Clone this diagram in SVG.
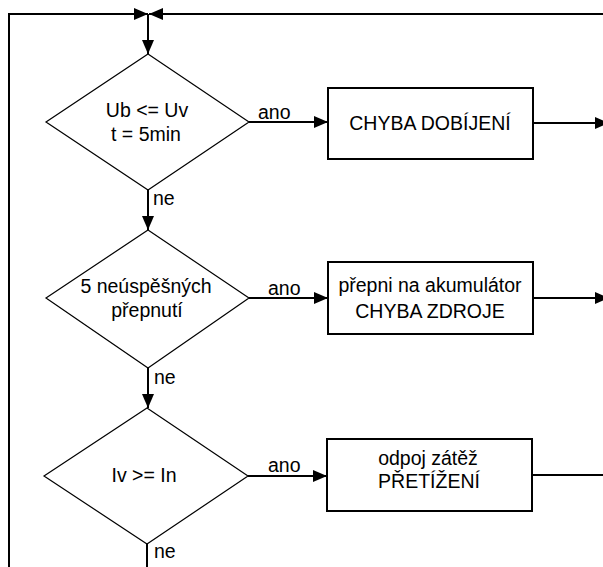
<svg xmlns="http://www.w3.org/2000/svg" width="603" height="567" viewBox="0 0 603 567">
<style>
  .t { font-family: "Liberation Sans", Arial, sans-serif; font-size: 19.5px; fill: #000; text-anchor: middle; }
  .l { font-family: "Liberation Sans", Arial, sans-serif; font-size: 19.5px; fill: #000; }
  .d { fill: #fff; stroke: #000; stroke-width: 1.2; }
  .b { fill: #fff; stroke: #000; stroke-width: 2; }
  .c { fill: none; stroke: #000; stroke-width: 2; }
</style>
<defs>
  <marker id="ah" markerUnits="userSpaceOnUse" markerWidth="14" markerHeight="12" refX="14" refY="6" orient="auto">
    <path d="M0,0 L14,6 L0,12 z" fill="#000"/>
  </marker>
</defs>
<rect width="603" height="567" fill="#fff"/>
<g id="connectors">
  <path class="c" d="M9,567 L9,14 L148,14" marker-end="url(#ah)"/>
  <path class="c" d="M603,14 L149,14" marker-end="url(#ah)"/>
  <path class="c" d="M148,14 L148,54" marker-end="url(#ah)"/>
  <path class="c" d="M249,122 L328,122" marker-end="url(#ah)"/>
  <path class="c" d="M533,123 L609,123" marker-end="url(#ah)"/>
  <path class="c" d="M148,190 L148,230" marker-end="url(#ah)"/>
  <path class="c" d="M249,298 L328,298" marker-end="url(#ah)"/>
  <path class="c" d="M533,298 L609,298" marker-end="url(#ah)"/>
  <path class="c" d="M148,368 L148,408" marker-end="url(#ah)"/>
  <path class="c" d="M248,476 L327,476" marker-end="url(#ah)"/>
  <path class="c" d="M532,475 L603,475"/>
  <path class="c" d="M147,544 L147,567"/>
  <text class="l" x="258" y="119">ano</text>
  <text class="l" x="153" y="205">ne</text>
  <text class="l" x="268" y="295">ano</text>
  <text class="l" x="154" y="384">ne</text>
  <text class="l" x="268" y="472">ano</text>
  <text class="l" x="154" y="558">ne</text>
</g>
<g id="d1">
  <polygon class="d" points="148,54 249,122 148,190 46,122"/>
  <text class="t" x="147" y="117">Ub &lt;= Uv</text>
  <text class="t" x="146" y="141">t = 5min</text>
</g>
<g id="b1">
  <rect class="b" x="328" y="88" width="205" height="71"/>
  <text class="t" x="430" y="130">CHYBA DOBÍJENÍ</text>
</g>
<g id="d2">
  <polygon class="d" points="148,230 249,298 148,368 46,298"/>
  <text class="t" x="146" y="293">5 neúspěšných</text>
  <text class="t" x="147" y="317">přepnutí</text>
</g>
<g id="b2">
  <rect class="b" x="328" y="262" width="205" height="72"/>
  <text class="t" x="430" y="292">přepni na akumulátor</text>
  <text class="t" x="430" y="318">CHYBA ZDROJE</text>
</g>
<g id="d3">
  <polygon class="d" points="147,408 248,476 147,544 44,476"/>
  <text class="t" x="144" y="482">Iv &gt;= In</text>
</g>
<g id="b3">
  <rect class="b" x="327" y="439" width="205" height="72"/>
  <text class="t" x="428" y="465">odpoj zátěž</text>
  <text class="t" x="429" y="488">PŘETÍŽENÍ</text>
</g>
</svg>
